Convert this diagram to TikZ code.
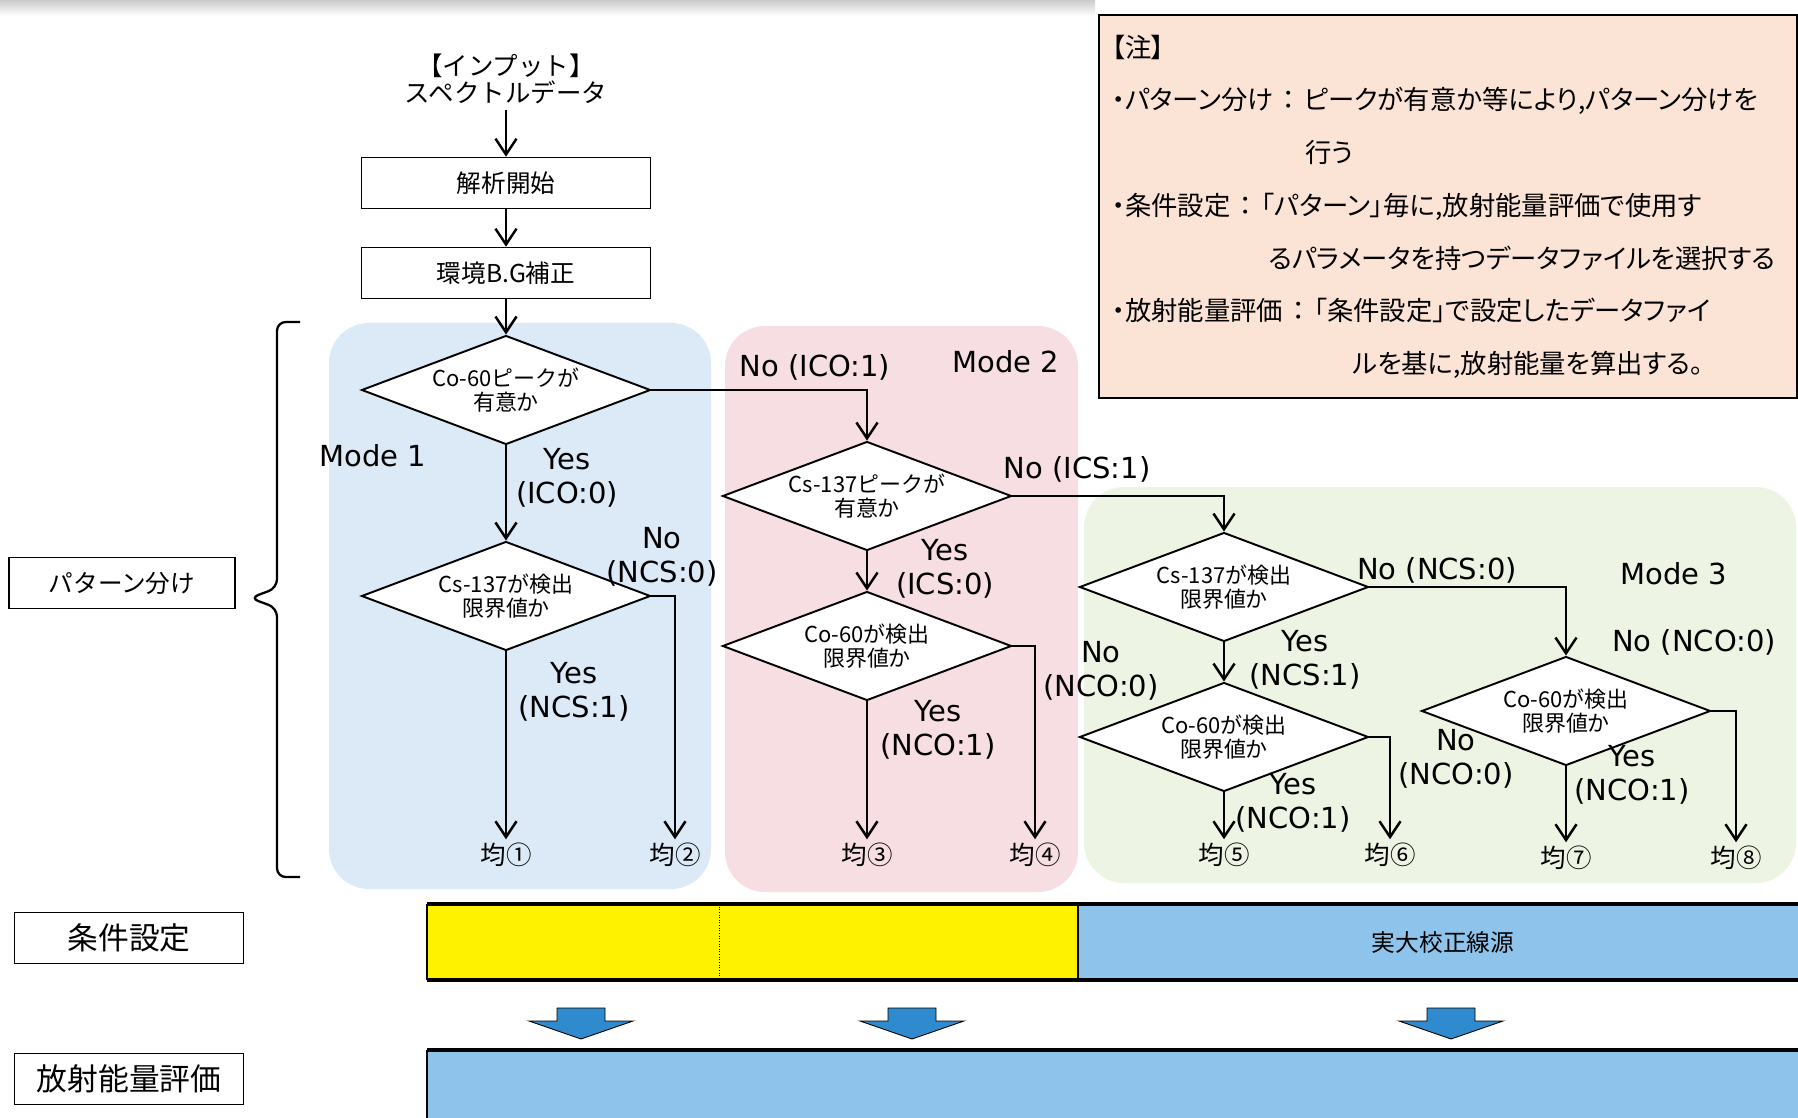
\documentclass[tikz,border=0pt]{standalone}
\usepackage{fontspec}
\setmainfont{Noto Sans CJK JP}
\newfontfamily\latinfont{DejaVu Sans}
\newfontfamily\notefont{Noto Sans CJK JP}[RawFeature=+palt]
\usepackage{tikz}
\usetikzlibrary{positioning, arrows.meta, shapes.geometric}
\definecolor{modeblue}{HTML}{DCE9F6}
\definecolor{modepink}{HTML}{F6DEE2}
\definecolor{modegreen}{HTML}{EEF4E3}
\definecolor{notepeach}{HTML}{FBE4D5}
\definecolor{barblue}{HTML}{8EC4EC}
\definecolor{baryellow}{HTML}{FFF200}
\definecolor{arrowblue}{HTML}{2F8BCD}

\tikzset{
  stepbox/.style={draw, line width=0.9pt, fill=white, minimum width=5.78cm,
                  minimum height=1.02cm, font=\fontsize{14}{16}\selectfont},
  check/.style={draw, diamond, fill=white, line width=1.1pt, aspect=2.65,
                minimum width=5.78cm, minimum height=2.18cm, inner sep=0pt,
                align=center, font=\fontsize{12.5}{14}\selectfont},
  flow/.style={line width=1.4pt, -{Straight Barb[length=9pt, width=12pt]}},
  branch/.style={font=\latinfont\fontsize{16.5}{19}\selectfont, align=center, inner sep=1pt},
  result/.style={font=\fontsize{14.5}{16}\selectfont, inner sep=2pt},
  sidebox/.style={draw, line width=0.8pt, fill=white, minimum width=4.58cm,
                  minimum height=1.02cm, font=\fontsize{17.5}{19}\selectfont},
  panel/.style={rounded corners=0.8cm},
  blockarrow/.style={fill=arrowblue, draw=black, line width=0.5pt},
  notebox/.style={draw, line width=1.4pt, fill=notepeach, minimum width=13.96cm,
                  minimum height=7.66cm, text width=13.45cm, inner xsep=7pt,
                  align=left, font=\notefont\fontsize{15}{30}\selectfont},
}

\begin{document}
\begin{tikzpicture}[x=0.02cm, y=-0.02cm]
  \useasboundingbox (0,0) rectangle (1798,1118);
  \shade[top color=gray!40, bottom color=white] (0,0) rectangle (1095,16);

  % mode panels
  \fill[modeblue, panel] (329,323) rectangle (711,889);
  \fill[modepink, panel] (725,326) rectangle (1078,892);
  \fill[modegreen, panel] (1084,487) rectangle (1796,883);

  % note
  \node[notebox, anchor=north west] (note) at (1098,14) {%
    【注】\\
    ・パターン分け ： ピークが有意か等により,パターン分けを\\
    \hspace*{110pt}行う\\
    ・条件設定 ： 「パターン」毎に,放射能量評価で使用す\\
    \hspace*{89pt}るパラメータを持つデータファイルを選択する\\
    ・放射能量評価 ： 「条件設定」で設定したデータファイ\\
    \hspace*{137pt}ルを基に,放射能量を算出する。};

  % main column
  \node[align=center, font=\fontsize{14.5}{15.5}\selectfont] (input) at (506,79)
    {【インプット】\\スペクトルデータ};
  \node[stepbox] (start) at (506,183) {解析開始};
  \node[stepbox] (bgfix) at (506,273) {環境B.G補正};
  \node[check] (peakco) at (506,390) {Co-60ピークが\\有意か};
  \node[check] (limcs1) at (506,596) {Cs-137が検出\\限界値か};
  \node[check] (peakcs) at (867,496) {Cs-137ピークが\\有意か};
  \node[check] (limco2) at (867,646) {Co-60が検出\\限界値か};
  \node[check] (limcs3) at (1224,587) {Cs-137が検出\\限界値か};
  \node[check] (limco3) at (1224,737) {Co-60が検出\\限界値か};
  \node[check] (limco4) at (1566,711) {Co-60が検出\\限界値か};

  % results
  \node[result] (r1) at (506,855) {均①};
  \node[result] (r2) at (675,855) {均②};
  \node[result] (r3) at (867,855) {均③};
  \node[result] (r4) at (1035,855) {均④};
  \node[result] (r5) at (1224,855) {均⑤};
  \node[result] (r6) at (1390,855) {均⑥};
  \node[result] (r7) at (1566,858) {均⑦};
  \node[result] (r8) at (1736,858) {均⑧};

  % mode names
  \node[branch] (mode1) at (373,456) {Mode 1};
  \node[branch] (mode2) at (1006,362) {Mode 2};
  \node[branch] (mode3) at (1674,574) {Mode 3};

  % branch labels
  \node[branch] (yes1) at (567,478) {Yes\\(ICO:0)};
  \node[branch] (no1) at (815,367) {No (ICO:1)};
  \node[branch] (no2) at (662,557) {No\\(NCS:0)};
  \node[branch] (yes2) at (574,692) {Yes\\(NCS:1)};
  \node[branch] (no3) at (1077,469) {No (ICS:1)};
  \node[branch] (yes3) at (945,569) {Yes\\(ICS:0)};
  \node[branch] (no4) at (1101,671) {No\\(NCO:0)};
  \node[branch] (yes4) at (938,730) {Yes\\(NCO:1)};
  \node[branch] (no5) at (1437,570) {No (NCS:0)};
  \node[branch] (yes5) at (1305,660) {Yes\\(NCS:1)};
  \node[branch] (no6) at (1456,759) {No\\(NCO:0)};
  \node[branch] (yes6) at (1293,803) {Yes\\(NCO:1)};
  \node[branch] (no7) at (1694,642) {No (NCO:0)};
  \node[branch] (yes7) at (1632,775) {Yes\\(NCO:1)};

  % connectors
  \draw[flow] (input) -- (start);
  \draw[flow] (start) -- (bgfix);
  \draw[flow] (bgfix) -- (peakco);
  \draw[flow] (peakco) -- (limcs1);
  \draw[flow] (peakco.east) -| (peakcs.north);
  \draw[flow] (limcs1) -- (r1);
  \draw[flow] (limcs1.east) -| (r2.north);
  \draw[flow] (peakcs) -- (limco2);
  \draw[flow] (peakcs.east) -| (limcs3.north);
  \draw[flow] (limco2) -- (r3);
  \draw[flow] (limco2.east) -| (r4.north);
  \draw[flow] (limcs3) -- (limco3);
  \draw[flow] (limcs3.east) -| (limco4.north);
  \draw[flow] (limco3) -- (r5);
  \draw[flow] (limco3.east) -| (r6.north);
  \draw[flow] (limco4) -- (r7);
  \draw[flow] (limco4.east) -| (r8.north);

  % brace and side labels
  \draw[line width=1.3pt, rounded corners=5pt]
    (300,322) -- (277,322) -- (277,588) -- (250,598) -- (277,608) -- (277,877) -- (300,877);
  \node[sidebox, minimum width=4.52cm, font=\fontsize{14}{16}\selectfont] (pattern) at (122,583) {パターン分け};
  \node[sidebox] (setting) at (129,938) {条件設定};
  \node[sidebox] (evaluate) at (129,1079) {放射能量評価};

  % condition bar
  \fill[baryellow] (427,904) rectangle (1078,980);
  \fill[barblue] (1078,904) rectangle (1798,980);
  \draw[densely dotted, line width=0.5pt] (719,904) -- (719,980);
  \draw[line width=0.6pt] (1078,904) -- (1078,980);
  \draw[line width=0.8pt] (427,904) -- (427,980);
  \draw[line width=1.8pt] (427,904) -- (1798,904) (427,980) -- (1798,980);
  \node[font=\fontsize{13.5}{15}\selectfont] (source) at (1443,943) {実大校正線源};

  \foreach \cx in {581,912,1451}
    \draw[blockarrow] (\cx-24,1008) -- (\cx+24,1008) -- (\cx+24,1021) -- (\cx+52,1021)
      -- (\cx,1039) -- (\cx-52,1021) -- (\cx-24,1021) -- cycle;

  % evaluation bar
  \fill[barblue] (427,1050) rectangle (1798,1118);
  \draw[line width=0.8pt] (427,1050) -- (427,1118);
  \draw[line width=1.8pt] (427,1050) -- (1798,1050);
\end{tikzpicture}
\end{document}
